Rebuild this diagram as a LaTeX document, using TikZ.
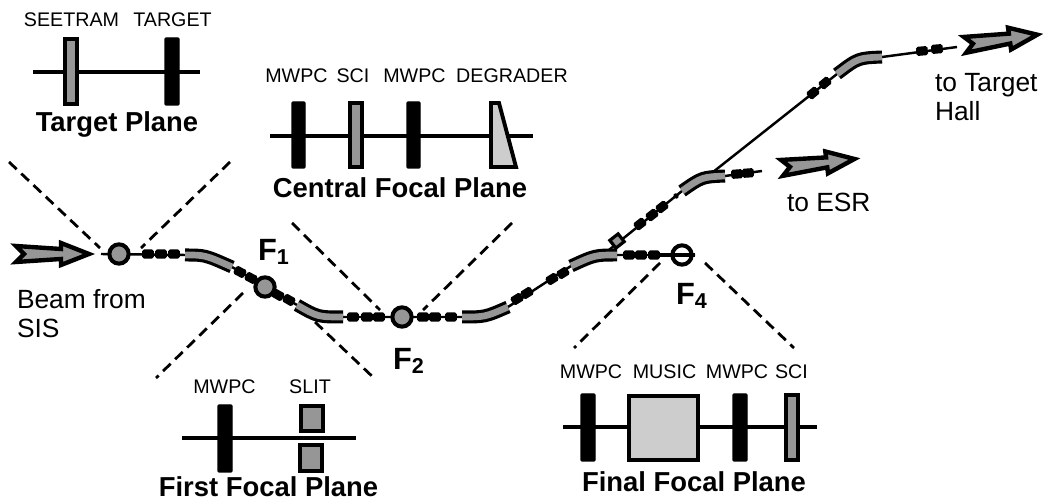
\documentclass[tikz,border=0pt]{standalone}
\usepackage{fontspec}
\setmainfont{Liberation Sans}
\usepackage{xcolor}
\definecolor{stipple}{RGB}{150,150,150}
\definecolor{stipplelight}{RGB}{205,205,205}
\usetikzlibrary{positioning}
\tikzset{
  every node/.style={inner sep=0pt,outer sep=0pt},
  planeline/.style={line width=2pt},
  detblack/.style={fill=black,draw=black,line width=0.6pt,rounded corners=0.5pt},
  detgrey/.style={fill=stipple,draw=black,line width=2.2pt},
  detlabel/.style={font=\fontsize{11.2}{13}\selectfont},
  planetitle/.style={font=\fontsize{15.6}{18}\selectfont\bfseries},
  beamtext/.style={font=\fontsize{15}{16.4}\selectfont,align=left,anchor=west},
  focuslabel/.style={font=\fontsize{17.5}{20}\selectfont\bfseries,anchor=west},
  beamline/.style={line width=1.4pt},
  acceptance/.style={line width=1.6pt,dash pattern=on 6pt off 3.6pt},
  dipoleout/.style={line width=7.4pt,black},
  dipolein/.style={line width=3.8pt,stipple},
  quadblock/.style={fill=black,rounded corners=1pt,minimum width=6.6pt,minimum height=5.2pt},
  focuscircle/.style={circle,draw=black,line width=2.3pt,fill=stipple,minimum size=11pt},
  beamarrow/.pic={
    \draw[line width=2.5pt,fill=stipple,miter limit=3]
      (1,8) -- (9,0) -- (1,-8) -- (46,-5) -- (46,-11) -- (74,0) -- (46,11) -- (46,5) -- cycle;
  }
}
\begin{document}
\begin{tikzpicture}[x=0.02cm,y=-0.02cm]
  \useasboundingbox (0,0) rectangle (1047,502);
  % acceptance lines
  \draw[acceptance] (9,162) -- (100,248);
  \draw[acceptance] (230,162) -- (141,248);
  \draw[acceptance] (243,293) -- (156,378);
  \draw[acceptance] (315,322) -- (375,379);
  \draw[acceptance] (292,223) -- (380,310);
  \draw[acceptance] (512,223) -- (423,310);
  \draw[acceptance] (660,263) -- (574,348);
  \draw[acceptance] (705,263) -- (794,348);

  % Target Plane
  \draw[planeline] (33,72) -- (200,72);
  \draw[detgrey] (65,39) rectangle (77,104);
  \draw[detblack] (165,38) rectangle (179,105);
  \node[detlabel] (seetram) at (71.5,20) {SEETRAM};
  \node[detlabel] (target) at (172.5,20) {TARGET};
  \node[planetitle] (targetplane) at (117,124) {Target Plane};

  % Central Focal Plane
  \draw[planeline] (270,136) -- (533,136);
  \foreach \x in {292,407} {
    \draw[detblack] (\x,102) rectangle (\x+13,168);
  }
  \draw[detgrey] (350,103) rectangle (362,167);
  \draw[detgrey,fill=stipplelight] (491,103) -- (499,103) -- (516,167) -- (491,167) -- cycle;
  \node[detlabel] (mwpcb) at (296.5,76) {MWPC};
  \node[detlabel] (scib) at (353,76) {SCI};
  \node[detlabel] (mwpcc) at (414.5,76) {MWPC};
  \node[detlabel] (degrader) at (512,76) {DEGRADER};
  \node[planetitle] (centralplane) at (400,188) {Central Focal Plane};

  % First Focal Plane
  \draw[planeline] (182,438) -- (356,438);
  \draw[detblack] (218,405) rectangle (232,472);
  \draw[detgrey] (301,406) rectangle (323,431);
  \draw[detgrey] (300,445) rectangle (322,471);
  \node[detlabel] (mwpca) at (224.5,387) {MWPC};
  \node[detlabel] (slit) at (310,387) {SLIT};
  \node[planetitle] (firstplane) at (268.5,487) {First Focal Plane};

  % Final Focal Plane
  \draw[planeline] (563,427) -- (817,427);
  \foreach \x in {581,733} {
    \draw[detblack] (\x,394) rectangle (\x+14,461);
  }
  \draw[detgrey,fill=stipplelight] (629,396) rectangle (698,460);
  \draw[detgrey] (786,395) rectangle (798,460);
  \node[detlabel] (mwpcd) at (591,372) {MWPC};
  \node[detlabel] (music) at (664.5,372) {MUSIC};
  \node[detlabel] (mwpce) at (737,372) {MWPC};
  \node[detlabel] (scid) at (791.5,372) {SCI};
  \node[planetitle] (finalplane) at (694,482) {Final Focal Plane};

  % beam line
  \coordinate (beamin) at (101,254);
  \coordinate (dipa) at (185,255);
  \coordinate (dipb) at (232,267);
  \coordinate (dipc) at (297,305);
  \coordinate (dipd) at (343,317);
  \coordinate (dipe) at (462,317);
  \coordinate (dipf) at (508,307);
  \coordinate (dipg) at (571,266);
  \coordinate (diph) at (617,255);
  \coordinate (dipi) at (682,191);
  \coordinate (dipj) at (725,176);
  \coordinate (dipk) at (837,74);
  \coordinate (dipl) at (882,57);
  \coordinate (branchhi) at (599,258);
  \coordinate (branchlo) at (708,176);
  \coordinate (endfour) at (695,255);
  \coordinate (endesr) at (762,171);
  \coordinate (endhall) at (957,47);
  \draw[beamline] (beamin) -- (dipa) (dipb) -- (dipc) (dipd) -- (dipe) (dipf) -- (dipg)
    (diph) -- (endfour) (branchhi) -- (dipi) (dipj) -- (endesr) (branchlo) -- (dipk) (dipl) -- (endhall);
  \foreach \a/\cx/\cy/\b in {dipa/205/255/dipb, dipc/318/317/dipd, dipe/485/317/dipf,
      dipg/595/255/diph, dipi/702/177/dipj, dipk/858/58/dipl} {
    \draw[dipoleout] (\a) .. controls (\cx,\cy) .. (\b);
    \draw[dipolein] (\a) .. controls (\cx,\cy) .. (\b);
  }
  \foreach \x/\y/\r in {148/254/0,161/254/0,174/254/0,240/272/-28,251/278/-28,278/295/-30,289/300/-30,
      353/317/0,367/317/0,379/317/0,423/317/0,435/317/0,451/317/0,517/299/32,527/293/32,552/279/32,563/273/32,
      629/255/0,641/255/0,654/255/0,640/224/38,652/215/38,662/207/38,737/174/4,748/173/4,
      813/93/40,825/83/40,922/51/5,937/49/5} {
    \node[quadblock,rotate=\r] (quad\x) at (\x,\y) {};
  }
  \node[quadblock,minimum width=3pt,minimum height=3pt,rotate=38] (quadsmall) at (676,196) {};
  \node[draw=black,line width=1.8pt,fill=stipple,minimum width=6pt,minimum height=5.6pt,rotate=38] (dipsmall) at (617,241) {};

  % foci
  \node[focuscircle] (focust) at (119,254) {};
  \node[focuscircle] (focusa) at (265,287) {};
  \node[focuscircle] (focusb) at (402,317) {};
  \node[focuscircle,fill=white] (focusd) at (682,255) {};
  \draw[line width=1.8pt] (quad654) -- (focusd.west) -- (endfour);
  \node[focuslabel] (labela) at (258,252) {F\textsubscript{1}};
  \node[focuslabel] (labelb) at (393,361) {F\textsubscript{2}};
  \node[focuslabel] (labeld) at (676,296) {F\textsubscript{4}};

  % beam arrows
  \pic at (15,254) {beamarrow};
  \pic[rotate=7] at (781,168) {beamarrow};
  \pic[rotate=8] at (964,45) {beamarrow};
  \node[beamtext] (beamfrom) at (17,314) {Beam from\\SIS};
  \node[beamtext] (toesr) at (787,202) {to ESR};
  \node[beamtext] (tohall) at (935,97) {to Target\\Hall};
\end{tikzpicture}
\end{document}
